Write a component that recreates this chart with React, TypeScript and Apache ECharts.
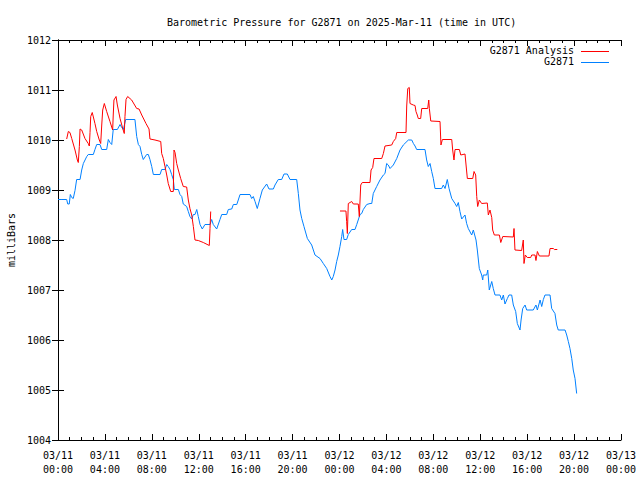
import React, { useEffect, useRef } from "react";
import * as echarts from "echarts";

const TITLE = "Barometric Pressure for G2871 on 2025-Mar-11 (time in UTC)";
const Y_NAME = "milliBars";
const SERIES_NAMES = ["G2871 Analysis", "G2871"];
const DAYS = ["03/11", "03/12", "03/13"];

// hours since 2025-03-11 00:00 UTC
const blueHours = [
  0.0, 0.26, 0.74, 0.83, 0.96, 1.05, 1.17, 1.30, 1.45, 1.59, 1.88, 2.02, 2.16, 2.45, 2.58, 3.01, 3.15, 3.30, 3.58, 3.73,
  4.15, 4.29, 4.43, 4.58, 4.71, 5.06, 5.29, 5.43, 5.57, 5.77, 6.56, 6.71, 6.85, 6.99, 7.14, 7.27, 7.56, 7.70, 7.84, 7.99,
  8.13, 8.70, 8.84, 9.12, 9.27, 9.40, 9.55, 9.69, 9.83, 9.92, 10.26, 10.40, 10.55, 10.68, 10.97, 11.11, 11.25, 11.40, 11.54, 11.68,
  11.83, 11.96, 12.11, 12.30, 12.53, 12.96, 13.10, 13.24, 13.53, 13.81, 13.96, 14.38, 14.52, 14.81, 14.95, 15.24, 15.37, 15.52, 16.37, 16.51,
  16.65, 16.80, 16.99, 17.22, 17.42, 17.79, 17.99, 18.36, 18.50, 18.78, 19.07, 19.27, 19.55, 19.78, 20.35, 20.49, 20.63, 20.78, 20.97, 21.26,
  21.63, 21.91, 22.34, 22.62, 22.91, 23.19, 23.34, 23.47, 23.62, 23.76, 23.90, 24.04, 24.19, 24.27, 24.38, 24.61, 24.75, 25.04, 25.32, 25.47,
  25.75, 25.89, 26.03, 26.32, 26.60, 26.75, 26.88, 27.17, 27.45, 27.74, 27.88, 28.02, 28.16, 28.31, 28.59, 28.88, 29.16, 29.44, 29.87, 30.16,
  30.30, 30.44, 30.58, 31.29, 31.43, 31.57, 31.72, 31.86, 32.00, 32.14, 32.71, 32.85, 33.00, 33.19, 33.34, 33.57, 33.85, 33.99, 34.13, 34.27,
  34.42, 34.70, 34.84, 34.98, 35.27, 35.41, 35.64, 35.75, 35.92, 36.12, 36.21, 36.26, 36.55, 36.64, 36.77, 36.98, 37.11, 37.26, 37.68, 37.83,
  37.97, 38.11, 38.31, 38.45, 38.68, 38.82, 39.02, 39.16, 39.39, 39.48, 39.62, 39.82, 39.96, 40.52, 40.75, 40.87, 41.10, 41.24, 41.38, 41.52,
  41.95, 42.09, 42.37, 42.52, 42.65, 43.23, 43.37, 43.51, 43.65, 43.80, 43.93, 44.08, 44.22,
];
const bluePressure = [
  1008.81, 1008.81, 1008.81, 1008.72, 1008.72, 1008.91, 1008.85, 1008.83, 1008.99, 1009.21, 1009.21, 1009.40, 1009.53, 1009.67, 1009.71, 1009.71, 1009.81, 1009.91, 1009.91, 1009.81,
  1009.81, 1010.01, 1009.95, 1009.91, 1010.21, 1010.21, 1010.31, 1010.25, 1010.21, 1010.41, 1010.41, 1010.07, 1009.91, 1009.87, 1009.71, 1009.61, 1009.71, 1009.71, 1009.61, 1009.47,
  1009.31, 1009.31, 1009.41, 1009.41, 1009.51, 1009.47, 1009.41, 1009.31, 1009.21, 1009.01, 1009.01, 1008.91, 1008.87, 1008.72, 1008.67, 1008.57, 1008.47, 1008.42, 1008.51, 1008.51,
  1008.61, 1008.47, 1008.31, 1008.22, 1008.31, 1008.31, 1008.41, 1008.31, 1008.22, 1008.41, 1008.51, 1008.51, 1008.61, 1008.62, 1008.71, 1008.71, 1008.80, 1008.91, 1008.91, 1008.83,
  1008.87, 1008.77, 1008.63, 1008.83, 1009.00, 1009.12, 1009.02, 1009.02, 1009.10, 1009.21, 1009.21, 1009.32, 1009.32, 1009.21, 1009.21, 1008.93, 1008.60, 1008.43, 1008.27, 1008.03,
  1007.90, 1007.70, 1007.63, 1007.53, 1007.43, 1007.27, 1007.20, 1007.27, 1007.40, 1007.57, 1007.70, 1007.87, 1008.07, 1008.21, 1008.01, 1008.01, 1008.11, 1008.21, 1008.21, 1008.31,
  1008.51, 1008.53, 1008.61, 1008.71, 1008.73, 1008.73, 1008.93, 1009.07, 1009.20, 1009.30, 1009.33, 1009.53, 1009.50, 1009.43, 1009.50, 1009.63, 1009.80, 1009.90, 1010.00, 1010.00,
  1009.93, 1009.88, 1009.81, 1009.81, 1009.60, 1009.47, 1009.53, 1009.37, 1009.23, 1009.03, 1009.03, 1009.10, 1009.03, 1009.21, 1009.03, 1008.83, 1008.73, 1008.67, 1008.75, 1008.57,
  1008.42, 1008.50, 1008.33, 1008.23, 1008.10, 1008.20, 1008.00, 1007.80, 1007.43, 1007.30, 1007.20, 1007.30, 1007.30, 1007.40, 1007.00, 1007.17, 1007.03, 1006.90, 1006.90, 1006.80,
  1006.90, 1006.72, 1006.83, 1006.90, 1006.90, 1006.70, 1006.57, 1006.33, 1006.20, 1006.40, 1006.63, 1006.70, 1006.60, 1006.60, 1006.70, 1006.60, 1006.80, 1006.67, 1006.81, 1006.90,
  1006.90, 1006.63, 1006.53, 1006.30, 1006.20, 1006.20, 1006.10, 1005.97, 1005.83, 1005.63, 1005.40, 1005.23, 1004.93,
];

const redHoursA = [
  0.74, 0.88, 1.02, 1.17, 1.45, 1.65, 1.73, 1.82, 1.88, 2.02, 2.30, 2.58, 2.67, 2.73, 2.79, 2.92, 3.15, 3.30, 3.52, 3.64,
  3.73, 3.81, 3.95, 4.15, 4.43, 4.66, 4.71, 4.77, 4.95, 5.06, 5.29, 5.52, 5.65, 5.71, 5.80, 5.94, 6.28, 6.71, 6.91, 7.14,
  7.50, 7.76, 7.84, 8.27, 8.76, 8.84, 8.98, 9.12, 9.27, 9.40, 9.61, 9.83, 9.89, 9.98, 10.12, 10.26, 10.46, 10.68, 10.97, 11.11,
  11.25, 11.40, 11.54, 11.68, 11.96, 12.39, 12.90, 12.96, 13.02,
];
const redPressureA = [
  1010.02, 1010.17, 1010.15, 1010.03, 1009.80, 1009.60, 1009.55, 1009.87, 1010.22, 1010.20, 1010.03, 1009.93, 1009.88, 1010.15, 1010.47, 1010.55, 1010.33, 1010.17, 1010.00, 1009.93,
  1010.30, 1010.60, 1010.73, 1010.57, 1010.37, 1010.20, 1010.50, 1010.80, 1010.87, 1010.70, 1010.43, 1010.23, 1010.13, 1010.47, 1010.81, 1010.87, 1010.80, 1010.63, 1010.62, 1010.50,
  1010.33, 1010.22, 1010.02, 1010.00, 1009.97, 1009.73, 1009.63, 1009.47, 1009.30, 1009.13, 1008.97, 1008.97, 1009.80, 1009.75, 1009.53, 1009.40, 1009.23, 1009.07, 1009.06, 1008.80,
  1008.63, 1008.50, 1008.27, 1008.00, 1007.99, 1007.95, 1007.89, 1008.23, 1008.57,
];

const redHoursB = [
  24.04, 24.55, 24.61, 24.67, 24.75, 24.90, 25.04, 25.18, 25.60, 25.69, 25.81, 25.94, 26.60, 26.69, 26.83, 26.94, 27.60, 27.74, 27.88, 28.45,
  28.59, 28.79, 28.88, 29.67, 29.73, 29.82, 29.95, 30.01, 30.29, 30.44, 30.52, 30.63, 30.72, 30.92, 31.01, 31.52, 31.61, 31.66, 31.78, 32.57,
  32.65, 32.77, 33.57, 33.65, 33.76, 33.85, 34.22, 34.34, 34.70, 34.79, 34.90, 35.36, 35.47, 35.61, 35.70, 35.78, 35.92, 36.12, 36.60, 36.69,
  36.83, 36.98, 37.06, 37.20, 37.63, 37.75, 37.92, 38.82, 38.88, 38.96, 39.53, 39.67, 39.73, 39.84, 40.01, 40.30, 40.39, 40.67, 40.75, 40.87,
  41.04, 41.86, 41.95, 42.23, 42.32, 42.57,
];
const redPressureB = [
  1008.58, 1008.58, 1008.37, 1008.13, 1008.73, 1008.75, 1008.77, 1008.72, 1008.72, 1008.47, 1009.10, 1009.15, 1009.15, 1009.40, 1009.45, 1009.63, 1009.63, 1009.73, 1009.88, 1009.90,
  1009.97, 1010.03, 1010.15, 1010.15, 1010.68, 1011.03, 1011.05, 1010.73, 1010.70, 1010.69, 1010.57, 1010.50, 1010.43, 1010.43, 1010.63, 1010.63, 1010.80, 1010.63, 1010.38, 1010.37,
  1009.90, 1010.01, 1010.01, 1009.80, 1009.60, 1009.81, 1009.81, 1009.70, 1009.72, 1009.50, 1009.23, 1009.23, 1009.37, 1009.30, 1008.87, 1008.67, 1008.80, 1008.73, 1008.74, 1008.50,
  1008.60, 1008.45, 1008.20, 1008.10, 1008.10, 1007.95, 1008.07, 1008.06, 1008.23, 1007.80, 1007.79, 1008.00, 1007.53, 1007.70, 1007.65, 1007.65, 1007.70, 1007.70, 1007.59, 1007.77,
  1007.68, 1007.68, 1007.83, 1007.83, 1007.81, 1007.81,
];

const RED = "#ff0000";
const BLUE = "#0080ff";
const FONT = "DejaVu Sans Mono";

const pairs = (xs: number[], ys: number[]) => xs.map((x, i) => [x, ys[i]]);

const xLabel = (v: number) => {
  const day = DAYS[Math.floor(v / 24)];
  const hh = String(Math.round(v % 24)).padStart(2, "0");
  return `${day}\n${hh}:00`;
};

export default function App() {
  const ref = useRef<HTMLDivElement>(null);
  useEffect(() => {
    if (!ref.current) return;
    const chart = echarts.init(ref.current, null, { renderer: "svg" });
    const axisLine = { show: true, lineStyle: { color: "#000", width: 1 } };
    const xCommon = {
      type: "value" as const,
      min: 0,
      max: 48,
      interval: 4,
      axisLine,
      axisTick: { show: true, inside: true, length: 6, lineStyle: { color: "#000" } },
      minorTick: { show: true, splitNumber: 4, length: 3, lineStyle: { color: "#000" } },
      splitLine: { show: false },
    };
    const yCommon = {
      type: "value" as const,
      min: 1004,
      max: 1012,
      interval: 1,
      axisLine,
      axisTick: { show: true, inside: true, length: 6, lineStyle: { color: "#000" } },
      splitLine: { show: false },
    };
    chart.setOption({
      animation: false,
      backgroundColor: "#fff",
      title: {
        text: TITLE,
        left: 162,
        top: 12,
        textStyle: { fontFamily: FONT, fontSize: 10, fontWeight: "normal", color: "#000" },
      },
      grid: { left: 58, right: 19, top: 40, bottom: 40, containLabel: false, outerBoundsMode: "none" },
      xAxis: [
        {
          ...xCommon,
          position: "bottom",
          axisLabel: {
            show: true,
            formatter: xLabel,
            fontFamily: FONT,
            fontSize: 10,
            color: "#000",
            margin: 8,
            lineHeight: 14,
            showMinLabel: true,
            showMaxLabel: true,
            hideOverlap: false,
          },
        },
        { ...xCommon, position: "top", axisLabel: { show: false } },
      ],
      yAxis: [
        {
          ...yCommon,
          position: "left",
          name: Y_NAME,
          nameLocation: "middle",
          nameRotate: 90,
          nameGap: 42,
          nameTextStyle: { fontFamily: FONT, fontSize: 10, color: "#000" },
          axisLabel: { fontFamily: FONT, fontSize: 10, color: "#000", margin: 7, formatter: (v: number) => String(v) },
        },
        { ...yCommon, position: "right", axisLabel: { show: false } },
      ],
      series: [
        {
          name: SERIES_NAMES[0],
          type: "line",
          data: pairs(redHoursA, redPressureA),
          showSymbol: false,
          symbol: "none",
          lineStyle: { color: RED, width: 1 },
          itemStyle: { color: RED },
          z: 3,
        },
        {
          name: SERIES_NAMES[0],
          type: "line",
          data: pairs(redHoursB, redPressureB),
          showSymbol: false,
          symbol: "none",
          lineStyle: { color: RED, width: 1 },
          itemStyle: { color: RED },
          z: 3,
        },
        {
          name: SERIES_NAMES[1],
          type: "line",
          data: pairs(blueHours, bluePressure),
          showSymbol: false,
          symbol: "none",
          lineStyle: { color: BLUE, width: 1 },
          itemStyle: { color: BLUE },
          z: 2,
        },
      ],
      graphic: [
        {
          type: "text",
          right: 640 - 574,
          top: 45,
          style: { text: SERIES_NAMES[0], fontFamily: FONT, fontSize: 10, fill: "#000" },
        },
        { type: "line", shape: { x1: 581, y1: 51.5, x2: 609, y2: 51.5 }, style: { stroke: RED, lineWidth: 1 } },
        {
          type: "text",
          right: 640 - 574,
          top: 56,
          style: { text: SERIES_NAMES[1], fontFamily: FONT, fontSize: 10, fill: "#000" },
        },
        { type: "line", shape: { x1: 581, y1: 62.5, x2: 609, y2: 62.5 }, style: { stroke: BLUE, lineWidth: 1 } },
      ],
    });
    return () => chart.dispose();
  }, []);
  return <div ref={ref} style={{ width: 640, height: 480, position: "absolute", left: 0, top: 0 }} />;
}
